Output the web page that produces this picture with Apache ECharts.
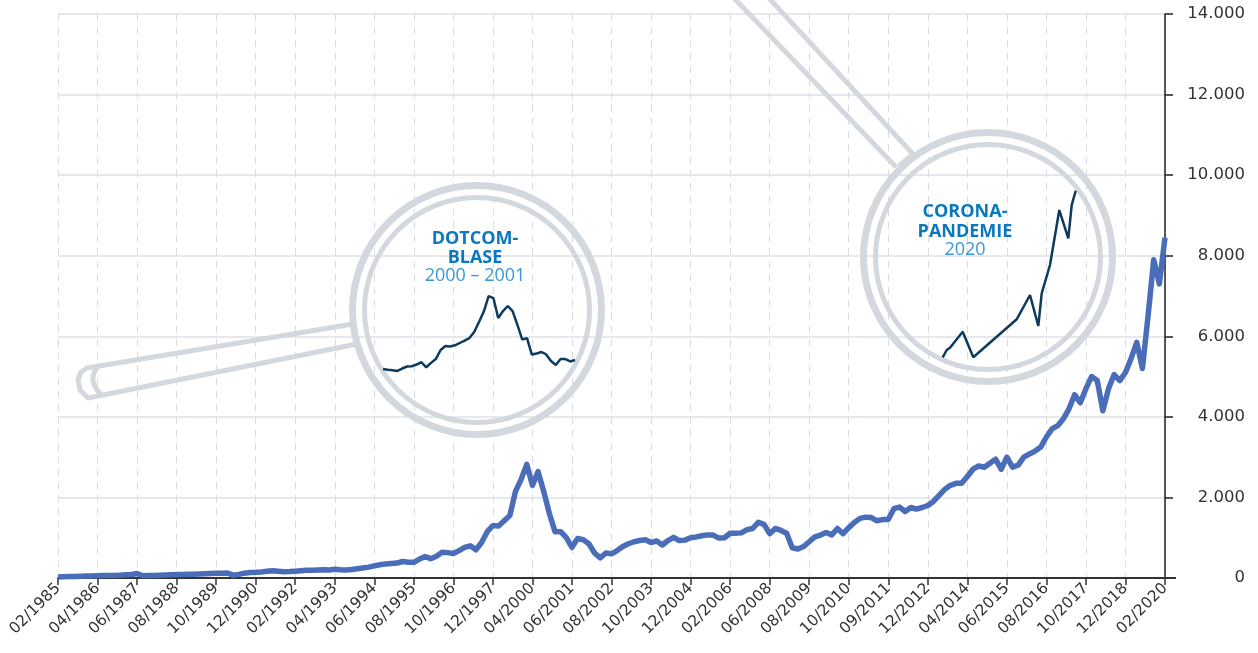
<!DOCTYPE html>
<html><head><meta charset="utf-8">
<script src="https://cdn.jsdelivr.net/npm/echarts@6/dist/echarts.min.js"></script>
<style>html,body{margin:0;padding:0;background:#fff}#c{width:1258px;height:653px}</style>
</head><body><div id="c"></div>
<script>
// ---- data ----
const tickLabels = ['02/1985','04/1986','06/1987','08/1988','10/1989','12/1990','02/1992','04/1993','06/1994','08/1995','10/1996','12/1997','04/2000','06/2001','08/2002','10/2003','12/2004','02/2006','06/2008','08/2009','10/2010','09/2011','12/2012','04/2014','06/2015','08/2016','10/2017','12/2018','02/2020'];
const pointsPerTick = 7;
const indexValues = [
  25,30,35,40,45,50,52,
  55,60,62,65,70,78,85,
  110,55,60,65,70,75,80,
  85,88,92,95,100,105,110,
  115,120,125,70,90,120,135,
  140,150,165,180,165,155,160,
  170,180,190,195,200,205,200,
  215,205,200,210,230,250,270,
  300,330,350,360,370,410,390,
  390,470,530,480,540,640,630,
  610,680,760,800,700,880,1150,
  1300,1290,1420,1550,2150,2450,2820,
  2300,2640,2150,1600,1150,1150,1000,
  760,980,950,850,620,500,620,
  600,680,780,850,900,930,950,
  880,920,820,930,1010,930,940,
  1000,1020,1050,1070,1065,990,1000,
  1110,1110,1120,1200,1230,1380,1330,
  1100,1230,1180,1110,750,720,780,
  900,1020,1065,1130,1070,1230,1100,
  1250,1380,1480,1510,1500,1420,1450,
  1450,1720,1760,1650,1750,1710,1750,
  1800,1900,2050,2200,2300,2350,2350,
  2520,2700,2780,2750,2850,2950,2700,
  3000,2750,2800,3000,3080,3150,3250,
  3500,3700,3780,3950,4200,4550,4350,
  4700,5000,4900,4150,4700,5050,4900,
  5100,5450,5850,5200,6500,7900,7300,
  8450
];
const yTicks = [0,2000,4000,6000,8000,10000,12000,14000];
// magnified detail: dot-com bubble
const dotcomValues = [400,375,355,335,415,480,490,545,620,455,600,725,1020,1150,1135,1175,1250,1330,1410,1610,1935,2280,2785,2720,2065,2295,2460,2295,1840,1365,1410,875,905,955,875,660,530,725,725,645,695];
// magnified detail: corona pandemic
const coronaX = [0,4,7.3,20,30.6,74,87.3,95.6,99,107.3,116.6,125.6,129,133];
const coronaValues = [6000,6158,6207,6553,6000,6821,7346,6676,7382,7994,9182,8570,9290,9599];
const dotcomTitle = ['DOTCOM-','BLASE','2000 – 2001'];
const coronaTitle = ['CORONA-','PANDEMIE','2020'];

// ---- build ----
const categories = indexValues.map((v,i)=>String(i));
const dotcomCats = dotcomValues.map((v,i)=>String(i));
const fmt = v => String(v).replace(/\B(?=(\d{3})+(?!\d))/g,'.');
const ringColor = '#d3d8de';
const titleBlue = '#0a78be';
const yearBlue = '#3b98d6';

const chart = echarts.init(document.getElementById('c'), null, {renderer:'canvas'});

function lens(cx, cy){
  return [
    {type:'circle', shape:{cx, cy, r:124.5}, style:{fill:'none', stroke:ringColor, lineWidth:7}, z:1},
    {type:'circle', shape:{cx, cy, r:112.5}, style:{fill:'none', stroke:ringColor, lineWidth:5}, z:1}
  ];
}
function titleTexts(lines, cx, ys){
  return lines.map((t,i)=>({type:'text', z:5, style:{text:t, x:cx, y:ys[i], align:'center', verticalAlign:'middle',
    fill: i<2 ? titleBlue : yearBlue,
    font: (i<2 ? 'bold ' : '') + '18px "Open Sans", sans-serif'}}));
}

const graphics = [].concat(
  lens(477, 310),
  lens(988, 257),
  [
    // dotcom handle
    {type:'polyline', z:1, shape:{points:[[353,324],[87,368],[81,372],[78,380],[80,390],[88,398],[357,344]], smooth:0}, style:{fill:'none', stroke:ringColor, lineWidth:5, lineJoin:'round'}},
    {type:'polyline', z:1, shape:{points:[[99,366],[94,373],[94,384],[101,394.5]], smooth:0.5}, style:{fill:'none', stroke:ringColor, lineWidth:5}},
    // corona handle
    {type:'polyline', z:1, shape:{points:[[731,-5],[896,167]]}, style:{fill:'none', stroke:ringColor, lineWidth:5}},
    {type:'polyline', z:1, shape:{points:[[766,-5],[913,154],[899,166]]}, style:{fill:'none', stroke:ringColor, lineWidth:5}},
    // x axis extension beyond y axis
    {type:'line', z:3, shape:{x1:1165, y1:578, x2:1176, y2:578}, style:{stroke:'#333', lineWidth:2}}
  ],
  titleTexts(dotcomTitle, 475, [238.5, 258, 275.5]),
  titleTexts(coronaTitle, 965, [212, 231.5, 250])
);

chart.setOption({
  animation:false,
  backgroundColor:'#fff',
  grid:[
    {left:58, right:93, top:14, bottom:75},
    {left:383, top:289.5, width:192, height:91.7},
    {left:942.7, top:190.7, width:133, height:166.6}
  ],
  xAxis:[
    {type:'category', gridIndex:0, data:categories, boundaryGap:false,
     axisLine:{show:true, lineStyle:{color:'#333', width:2}},
     axisTick:{show:true, interval:pointsPerTick-1, length:7, lineStyle:{color:'#333', width:1.5}},
     axisLabel:{interval:pointsPerTick-1, rotate:45, margin:8, color:'#333', fontSize:15.5, fontFamily:'"DejaVu Sans", sans-serif',
       formatter:(v,idx)=> idx % pointsPerTick === 0 ? tickLabels[idx/pointsPerTick] : ''},
     splitLine:{show:true, interval:pointsPerTick-1, lineStyle:{color:'#d8dce1', width:1, type:[7,6]}}
    },
    {type:'category', gridIndex:1, data:dotcomCats, boundaryGap:false, show:false},
    {type:'value', gridIndex:2, min:0, max:133, show:false}
  ],
  yAxis:[
    {type:'value', gridIndex:0, position:'right', min:yTicks[0], max:yTicks[yTicks.length-1], interval:2000,
     axisLine:{show:true, lineStyle:{color:'#222', width:1.5}},
     axisTick:{show:true, length:8, lineStyle:{color:'#222', width:1.5}},
     axisLabel:{align:'right', margin:80, color:'#333', fontSize:16.5, fontFamily:'"DejaVu Sans", sans-serif', formatter:fmt},
     splitLine:{show:true, lineStyle:{color:'#dde1e6', width:1.5}}
    },
    {type:'value', gridIndex:1, min:0, max:3000, show:false},
    {type:'value', gridIndex:2, min:6000, max:9600, show:false}
  ],
  series:[
    {type:'line', xAxisIndex:0, yAxisIndex:0, data:indexValues, showSymbol:false, symbol:'none',
     lineStyle:{color:'#4a6db9', width:5.5, join:'round'}, z:4},
    {type:'line', xAxisIndex:1, yAxisIndex:1, data:dotcomValues, showSymbol:false, symbol:'none',
     lineStyle:{color:'#0d3b5e', width:2.5}, z:4},
    {type:'line', xAxisIndex:2, yAxisIndex:2, data:coronaX.map((x,i)=>[x, coronaValues[i]]), showSymbol:false, symbol:'none',
     lineStyle:{color:'#0d3b5e', width:2.5}, z:4}
  ],
  graphic:graphics
});
</script>
</body></html>
